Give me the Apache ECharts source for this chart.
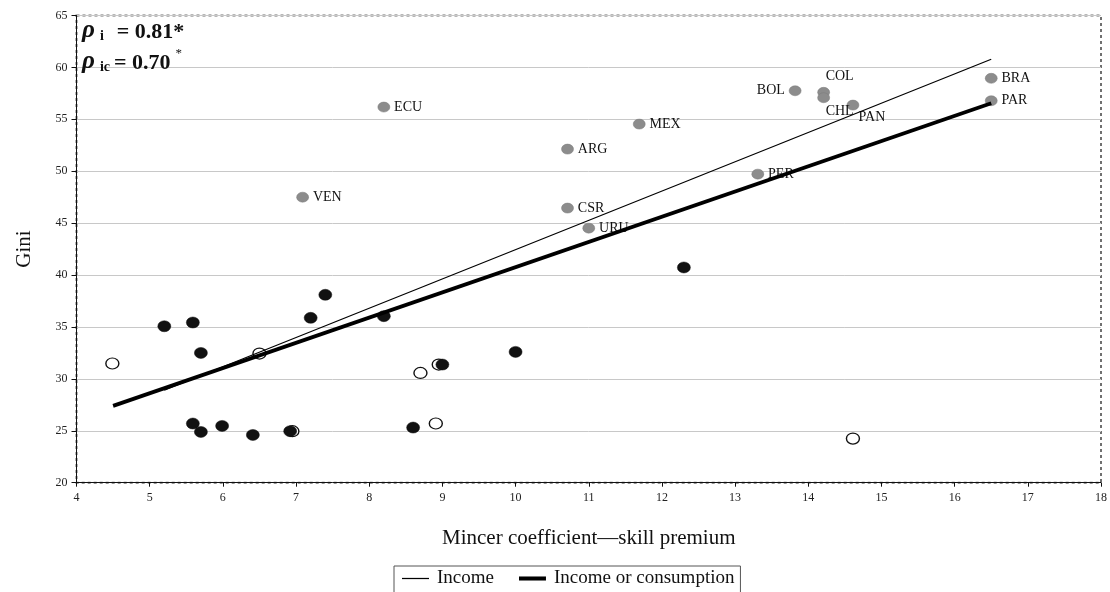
<!DOCTYPE html>
<html>
<head>
<meta charset="utf-8">
<script src="https://cdn.jsdelivr.net/npm/echarts@6/dist/echarts.min.js"></script>
<style>
  html, body { margin: 0; padding: 0; background: #fff; }
  #chart { width: 1110px; height: 592px; }
</style>
</head>
<body>
<div id="chart"></div>
<script>
// Country observations (labelled, grey markers)
const countries = ['ECU', 'VEN', 'ARG', 'CSR', 'URU', 'MEX', 'PER', 'BOL', 'COL', 'CHL', 'PAN', 'BRA', 'PAR'];
const countryMincer = [8.2, 7.09, 10.71, 10.71, 11.0, 11.69, 13.31, 13.82, 14.21, 14.21, 14.61, 16.5, 16.5];
const countryGini = [56.18, 47.5, 52.13, 46.45, 44.52, 54.54, 49.72, 57.75, 57.6, 57.08, 56.37, 58.95, 56.79];

// Other observations, filled markers
const filledMincer = [5.2, 5.59, 5.7, 7.2, 7.4, 8.2, 9.0, 10.0, 12.3, 5.59, 5.7, 5.99, 6.41, 6.92, 8.6];
const filledGini = [35.07, 35.43, 32.5, 35.88, 38.1, 36.04, 31.38, 32.6, 40.73, 25.7, 24.89, 25.47, 24.6, 24.96, 25.31];

// Other observations, open markers
const openMincer = [4.49, 6.5, 8.7, 8.91, 14.61, 6.95, 8.95];
const openGini = [31.48, 32.44, 30.57, 25.7, 24.25, 24.96, 31.38];

// Fitted lines (end points)
const incomeFitX = [5.2, 16.5];
const incomeFitY = [28.9, 60.78];
const bothFitX = [4.5, 16.5];
const bothFitY = [27.4, 56.55];

const yTicks = [20, 25, 30, 35, 40, 45, 50, 55, 60, 65];
const xTicks = [4, 5, 6, 7, 8, 9, 10, 11, 12, 13, 14, 15, 16, 17, 18];

const serif = '"Liberation Serif", "Times New Roman", serif';

const zip = (xs, ys) => xs.map((x, i) => [x, ys[i]]);

// per-country label placement
const labelPos = {
  BOL: { position: 'left', distance: 4 },
  COL: { position: 'top', distance: 4, offset: [16, 0] },
  CHL: { position: 'bottom', distance: 4, offset: [16, -3] },
  PAN: { position: 'bottom', distance: 4, offset: [19, -4] }
};

const countryData = countries.map((c, i) => {
  const lp = labelPos[c] || { position: 'right', distance: 4 };
  return {
    name: c,
    value: [countryMincer[i], countryGini[i]],
    label: Object.assign({ show: true, formatter: c }, lp)
  };
});

const chart = echarts.init(document.getElementById('chart'), null, { renderer: 'canvas' });

const rhoStyles = {
  r: { fontFamily: serif, fontSize: 25, fontWeight: 'bold', fontStyle: 'italic', fill: '#111', lineHeight: 27, verticalAlign: 'bottom' },
  s: { fontFamily: serif, fontSize: 14, fontWeight: 'bold', fill: '#111', lineHeight: 25, verticalAlign: 'bottom', padding: [0, 0, 0, 5] },
  u: { fontFamily: serif, fontSize: 13, fill: '#111', lineHeight: 27, verticalAlign: 'top', padding: [0, 0, 0, 5] }
};
const rhoEq = (pad) => ({ fontFamily: serif, fontSize: 22, fontWeight: 'bold', fill: '#111', lineHeight: 27, verticalAlign: 'bottom', padding: [0, 0, 0, pad] });

chart.setOption({
  animation: false,
  backgroundColor: '#fff',
  grid: {
    left: 76.5, right: 6, top: 15.5, bottom: 109.3,
    show: true,
    borderColor: '#707070',
    borderWidth: 2,
    borderType: [3, 3]
  },
  xAxis: {
    type: 'value',
    min: xTicks[0], max: xTicks[xTicks.length - 1], interval: 1,
    name: 'Mincer coefficient\u2014skill premium',
    nameLocation: 'middle',
    nameGap: 45,
    nameTextStyle: { fontFamily: serif, fontSize: 21, color: '#111' },
    axisLine: { show: true, onZero: false, lineStyle: { color: '#111', width: 1 } },
    axisTick: { show: true, length: 4, lineStyle: { color: '#111' } },
    axisLabel: { fontFamily: serif, fontSize: 12, color: '#222', margin: 9 },
    splitLine: { show: false }
  },
  yAxis: {
    type: 'value',
    min: yTicks[0], max: yTicks[yTicks.length - 1], interval: 5,
    name: 'Gini',
    nameLocation: 'middle',
    nameGap: 42,
    nameTextStyle: { fontFamily: serif, fontSize: 21, color: '#111' },
    axisLine: { show: true, onZero: false, lineStyle: { color: '#111', width: 1 } },
    axisTick: { show: true, length: 5, lineStyle: { color: '#111' } },
    axisLabel: { fontFamily: serif, fontSize: 12, color: '#222', margin: 9 },
    splitLine: { show: true, lineStyle: { color: '#c8c8c8', width: 1 } }
  },
  legend: {
    data: [
      { name: 'Income', icon: 'path://M0,0L26,0L26,1.2L0,1.2Z' },
      { name: 'Income or consumption', icon: 'path://M0,0L28,0L28,4.2L0,4.2Z' }
    ],
    symbolKeepAspect: true,
    left: 394, top: 566,
    orient: 'horizontal',
    borderColor: '#555',
    borderWidth: 1,
    padding: [3, 6, 6, 8],
    itemGap: 25,
    itemWidth: 27,
    itemHeight: 14,
    textStyle: { fontFamily: serif, fontSize: 19, color: '#111', padding: [0, 0, 0, 3] }
  },
  graphic: [
    {
      type: 'text', left: 82, top: 18, z: 10,
      style: {
        text: '{r|\u03c1}{s|i}{t|= 0.81*}',
        rich: Object.assign({ t: rhoEq(13) }, rhoStyles)
      }
    },
    {
      type: 'text', left: 82, top: 47, z: 10,
      style: {
        text: '{r|\u03c1}{s|ic}{t|= 0.70}{u|*}',
        rich: Object.assign({ t: rhoEq(4) }, rhoStyles)
      }
    }
  ],
  series: [
    {
      name: 'open',
      type: 'scatter',
      z: 2,
      symbol: 'circle',
      symbolSize: [13, 11],
      itemStyle: { color: '#fff', borderColor: '#111', borderWidth: 1.3, opacity: 1 },
      data: zip(openMincer, openGini)
    },
    {
      name: 'filled',
      type: 'scatter',
      z: 2,
      symbol: 'circle',
      symbolSize: [13, 11],
      itemStyle: { color: '#111', borderColor: '#111', borderWidth: 0.5, opacity: 1 },
      data: zip(filledMincer, filledGini)
    },
    {
      name: 'countries',
      type: 'scatter',
      z: 2,
      symbol: 'circle',
      symbolSize: [12, 10],
      itemStyle: { color: '#8c8c8c', borderColor: '#7a7a7a', borderWidth: 0.5, opacity: 1 },
      label: { fontFamily: serif, fontSize: 14, color: '#111' },
      data: countryData
    },
    {
      name: 'Income',
      type: 'line',
      z: 3,
      symbol: 'none',
      lineStyle: { color: '#000', width: 1.2 },
      itemStyle: { color: '#000' },
      data: zip(incomeFitX, incomeFitY)
    },
    {
      name: 'Income or consumption',
      type: 'line',
      z: 3,
      symbol: 'none',
      lineStyle: { color: '#000', width: 3.8 },
      itemStyle: { color: '#000' },
      data: zip(bothFitX, bothFitY)
    }
  ]
});
</script>
</body>
</html>
